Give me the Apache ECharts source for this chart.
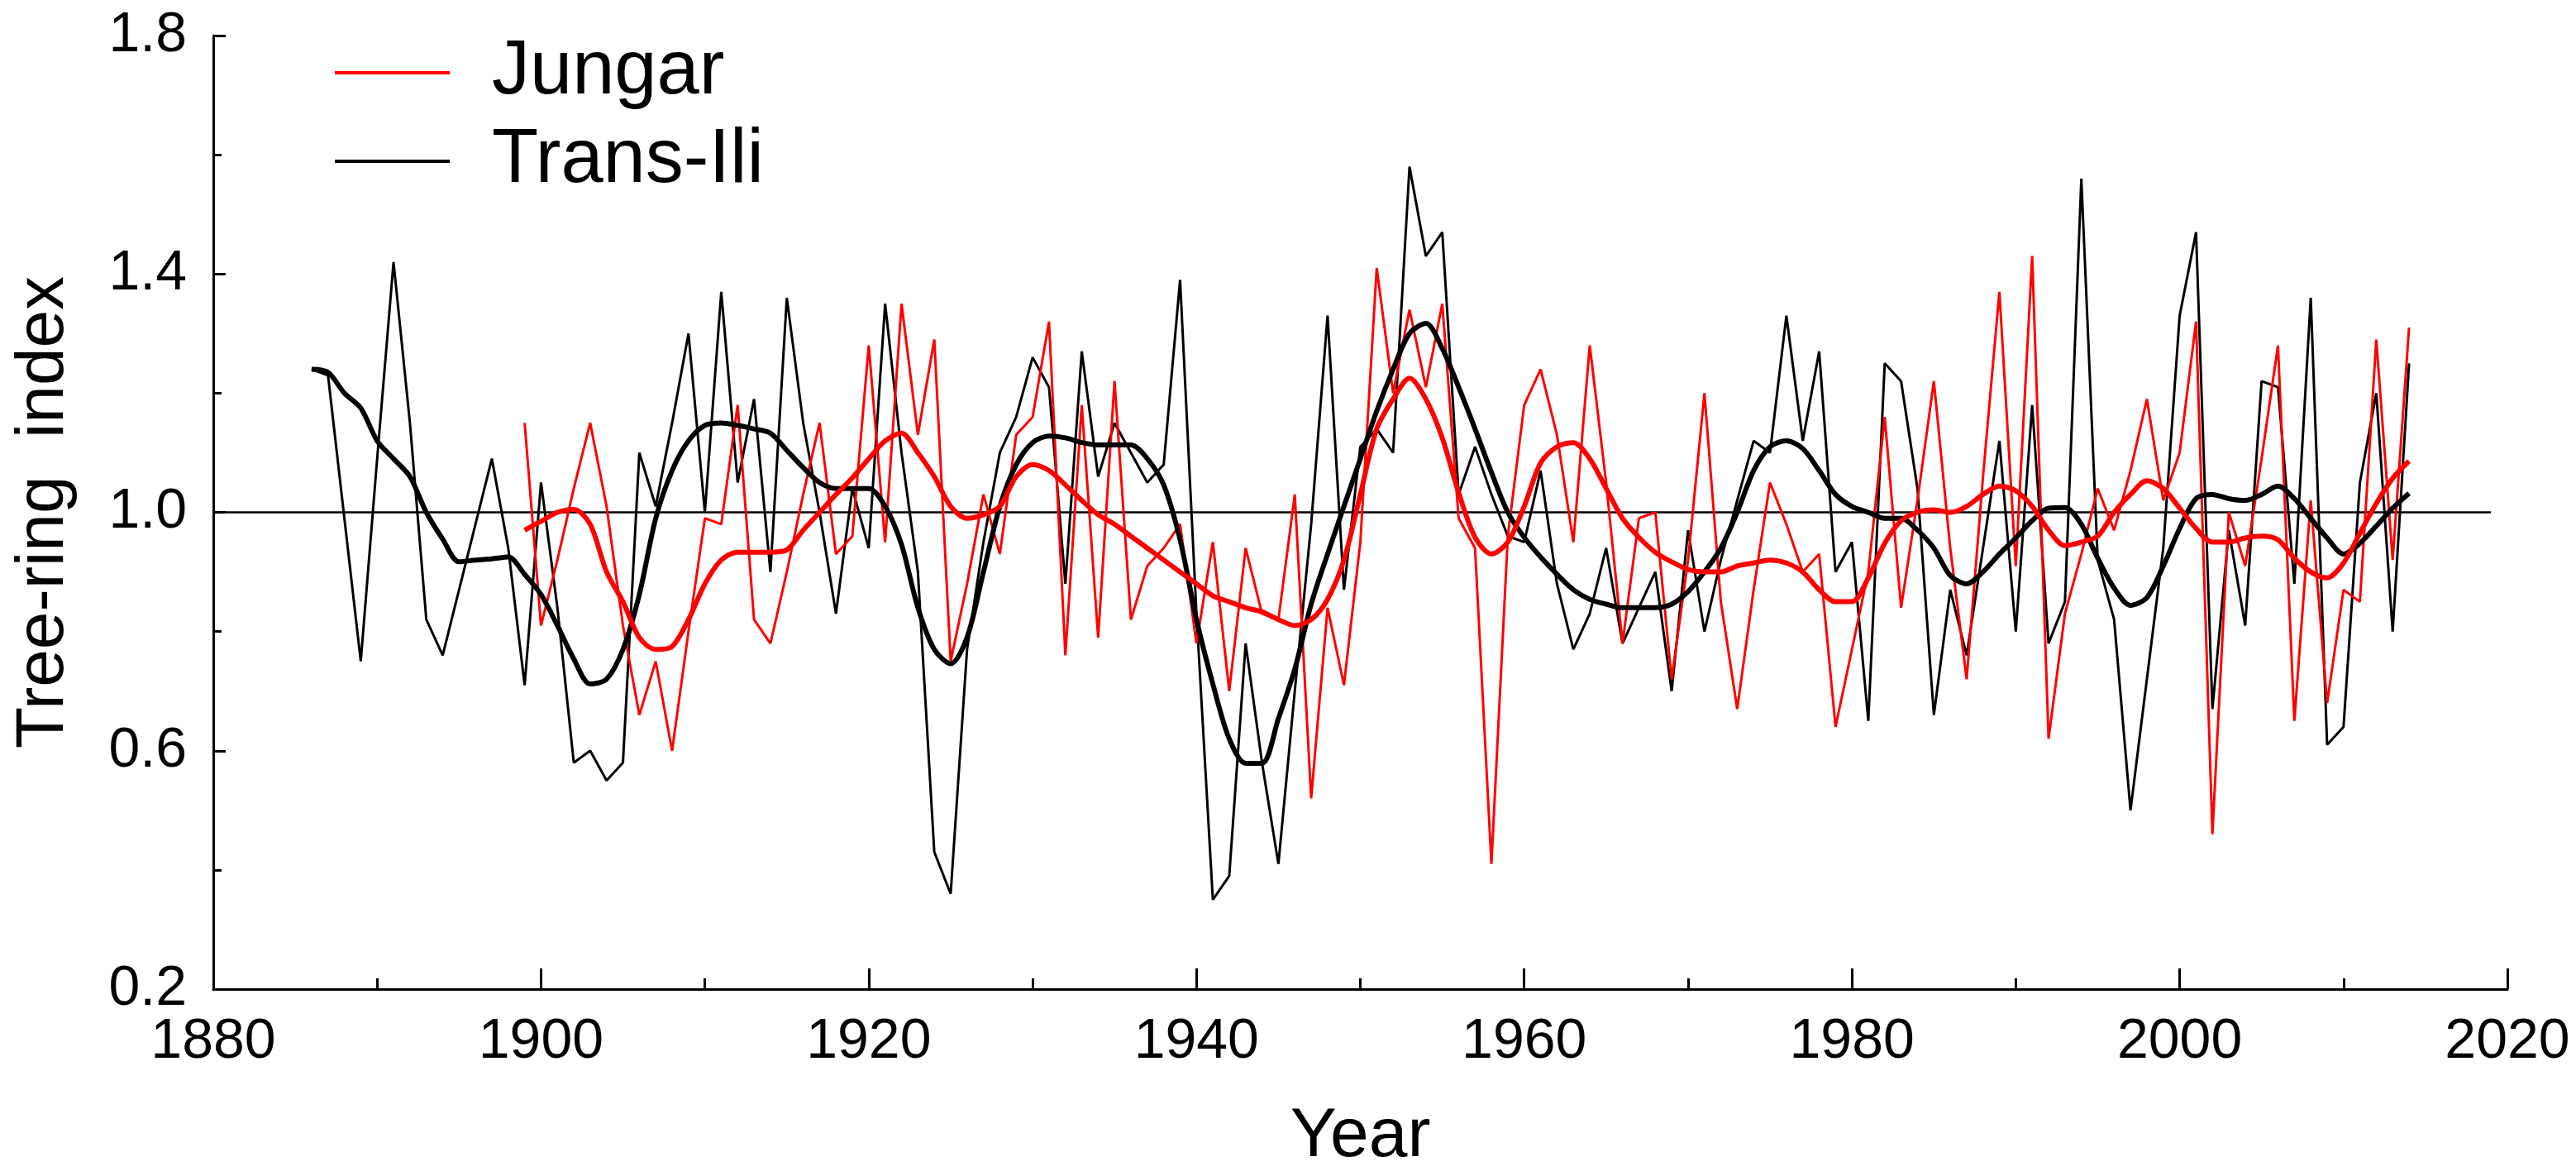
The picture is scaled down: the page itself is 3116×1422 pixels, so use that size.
<!DOCTYPE html>
<html>
<head>
<meta charset="utf-8">
<title>Tree-ring index</title>
<script src="https://cdn.jsdelivr.net/npm/echarts@6/dist/echarts.min.js"></script>
<style>
  html, body { margin: 0; padding: 0; background: #fff; }
  #chart { width: 3116px; height: 1422px; }
</style>
</head>
<body>
<div id="chart"></div>
<script>
// --- data ---
const transIliStart = 1886;
const transIliRaw = [
  1.24, 1.23, 0.99, 0.75,                                   // 1886-1889
  1.09, 1.42, 1.15, 0.82, 0.76, 0.87, 0.98, 1.09, 0.94, 0.71, // 1890s
  1.05, 0.84, 0.58, 0.60, 0.55, 0.58, 1.10, 1.01, 1.15, 1.30, // 1900s
  1.00, 1.37, 1.05, 1.19, 0.90, 1.36, 1.15, 1.00, 0.83, 1.04, // 1910s
  0.94, 1.35, 1.10, 0.90, 0.43, 0.36, 0.77, 0.95, 1.10, 1.16, // 1920s
  1.26, 1.21, 0.88, 1.27, 1.06, 1.15, 1.10, 1.05, 1.08, 1.39, // 1930s
  0.83, 0.35, 0.39, 0.78, 0.58, 0.41, 0.70, 0.98, 1.33, 0.87, // 1940s
  1.11, 1.14, 1.10, 1.58, 1.43, 1.47, 1.03, 1.11, 1.03, 0.96, // 1950s
  0.95, 1.07, 0.88, 0.77, 0.83, 0.94, 0.78, 0.84, 0.90, 0.70, // 1960s
  0.97, 0.80, 0.92, 1.02, 1.12, 1.10, 1.33, 1.12, 1.27, 0.90, // 1970s
  0.95, 0.65, 1.25, 1.22, 1.04, 0.66, 0.87, 0.76, 0.94, 1.12, // 1980s
  0.80, 1.18, 0.78, 0.85, 1.56, 0.92, 0.82, 0.50, 0.72, 0.94, // 1990s
  1.33, 1.47, 0.67, 0.97, 0.81, 1.22, 1.21, 0.88, 1.36, 0.61, // 2000s
  0.64, 1.05, 1.20, 0.80, 1.25                              // 2010-2014
];
const transIliSmooth = [
  1.24, 1.235, 1.20, 1.175,
  1.12, 1.09, 1.06, 1.00, 0.955, 0.917, 0.92, 0.922, 0.925, 0.896,
  0.862, 0.81, 0.754, 0.712, 0.72, 0.77, 0.862, 0.99, 1.07, 1.12,
  1.146, 1.15, 1.146, 1.14, 1.133, 1.104, 1.075, 1.05, 1.04, 1.04,
  1.04, 1.01, 0.946, 0.84, 0.77, 0.746, 0.79, 0.90, 1.01, 1.08,
  1.117, 1.128, 1.125, 1.117, 1.113, 1.113, 1.113, 1.09, 1.046, 0.954,
  0.82, 0.712, 0.62, 0.579, 0.579, 0.654, 0.737, 0.846, 0.93, 1.01,
  1.09, 1.17, 1.24, 1.30, 1.317, 1.275, 1.21, 1.14, 1.067, 1.0,
  0.958, 0.925, 0.896, 0.87, 0.854, 0.846, 0.84, 0.84, 0.84, 0.846,
  0.867, 0.90, 0.94, 1.0, 1.07, 1.11, 1.12, 1.107, 1.07, 1.03,
  1.01, 1.0, 0.99, 0.99, 0.97, 0.94, 0.894, 0.88, 0.90, 0.93,
  0.957, 0.986, 1.007, 1.008, 0.98, 0.923, 0.873, 0.844, 0.857, 0.91,
  0.973, 1.023, 1.03, 1.023, 1.02, 1.03, 1.044, 1.023, 0.99, 0.957,
  0.93, 0.948, 0.977, 1.007, 1.032
];

const jungarStart = 1899;
const jungarRaw = [
  1.15,                                                     // 1899
  0.81, 0.92, 1.04, 1.15, 1.01, 0.81, 0.66, 0.75, 0.60, 0.80, // 1900s
  0.99, 0.98, 1.18, 0.82, 0.78, 0.90, 1.03, 1.15, 0.93, 0.96, // 1910s
  1.28, 0.95, 1.35, 1.13, 1.29, 0.75, 0.88, 1.03, 0.93, 1.13, // 1920s
  1.16, 1.32, 0.76, 1.18, 0.79, 1.22, 0.82, 0.91, 0.94, 0.98, // 1930s
  0.78, 0.95, 0.70, 0.94, 0.83, 0.82, 1.03, 0.52, 0.84, 0.71, // 1940s
  0.95, 1.41, 1.20, 1.34, 1.21, 1.35, 0.99, 0.94, 0.41, 0.96, // 1950s
  1.18, 1.24, 1.13, 0.95, 1.28, 1.05, 0.78, 0.99, 1.00, 0.72, // 1960s
  0.92, 1.20, 0.85, 0.67, 0.87, 1.05, 0.98, 0.90, 0.93, 0.64, // 1970s
  0.77, 0.90, 1.16, 0.84, 1.02, 1.22, 0.94, 0.72, 1.06, 1.37, // 1980s
  0.91, 1.43, 0.62, 0.83, 0.93, 1.04, 0.97, 1.07, 1.19, 1.02, // 1990s
  1.10, 1.32, 0.46, 1.00, 0.91, 1.09, 1.28, 0.65, 1.02, 0.68, // 2000s
  0.87, 0.85, 1.29, 0.92, 1.31                              // 2010-2014
];
const jungarSmooth = [
  0.97,
  0.985, 1.0, 1.005, 0.98, 0.90, 0.85, 0.79, 0.77, 0.775, 0.82,
  0.88, 0.92, 0.933, 0.933, 0.933, 0.937, 0.97, 1.0, 1.03, 1.058,
  1.09, 1.12, 1.133, 1.10, 1.06, 1.01, 0.99, 0.996, 1.01, 1.06,
  1.08, 1.07, 1.046, 1.02, 0.996, 0.98, 0.96, 0.94, 0.92, 0.90,
  0.88, 0.86, 0.85, 0.84, 0.833, 0.82, 0.81, 0.82, 0.854, 0.92,
  1.03, 1.14, 1.19, 1.225, 1.19, 1.125, 1.033, 0.958, 0.93, 0.95,
  1.01, 1.083, 1.11, 1.117, 1.09, 1.04, 0.99, 0.958, 0.933, 0.917,
  0.904, 0.90, 0.90, 0.91, 0.915, 0.92, 0.915, 0.90, 0.87, 0.85,
  0.85, 0.89, 0.948, 0.986, 1.0, 1.004, 1.0, 1.01, 1.03, 1.044,
  1.036, 1.01, 0.97, 0.944, 0.95, 0.96, 1.0, 1.03, 1.053, 1.04,
  1.007, 0.973, 0.95, 0.95, 0.957, 0.96, 0.954, 0.923, 0.90, 0.89,
  0.915, 0.965, 1.015, 1.057, 1.086
];

// reference line at index 1.0
const refYears = [1880, 2019];
const refLevel = 1.0;

const yTicks = [0.2, 1.8, 0.4];      // min, max, interval
const xTicks = [1880, 2020, 20];     // min, max, interval

// --- helpers ---
function toPairs(start, values) {
  return values.map((v, i) => [start + i, v]);
}

const FONT = 'Liberation Sans, Arial, sans-serif';
const RED = '#ff0000';
const BLACK = '#000000';

const chart = echarts.init(document.getElementById('chart'), null, { renderer: 'canvas' });

const option = {
  animation: false,
  backgroundColor: '#ffffff',
  grid: { left: 258, right: 83, top: 43, bottom: 226 },
  legend: {
    data: ['Jungar', 'Trans-Ili'],
    orient: 'vertical',
    left: 400,
    top: 37,
    icon: 'rect',
    itemWidth: 139,
    itemHeight: 4,
    itemGap: 15,
    selectedMode: false,
    textStyle: {
      fontFamily: FONT,
      fontSize: 92,
      lineHeight: 92,
      color: BLACK,
      padding: [0, 0, 0, 46]
    }
  },
  xAxis: {
    type: 'value',
    min: xTicks[0],
    max: xTicks[1],
    interval: xTicks[2],
    name: 'Year',
    nameLocation: 'middle',
    nameGap: 137,
    nameTextStyle: { fontFamily: FONT, fontSize: 84, color: BLACK },
    axisLine: { show: true, lineStyle: { color: BLACK, width: 3 } },
    axisTick: { show: true, inside: true, length: 25, lineStyle: { color: BLACK, width: 3 } },
    minorTick: { show: true, splitNumber: 2, length: 13, lineStyle: { color: BLACK, width: 3 } },
    axisLabel: {
      fontFamily: FONT, fontSize: 68, color: BLACK, margin: 30,
      formatter: v => String(v)
    },
    splitLine: { show: false }
  },
  yAxis: {
    type: 'value',
    min: yTicks[0],
    max: yTicks[1],
    interval: yTicks[2],
    name: 'Tree-ring  index',
    nameLocation: 'middle',
    nameGap: 164,
    nameTextStyle: { fontFamily: FONT, fontSize: 82, color: BLACK },
    axisLine: { show: true, lineStyle: { color: BLACK, width: 3 } },
    axisTick: { show: true, inside: true, length: 15, lineStyle: { color: BLACK, width: 3 } },
    minorTick: { show: true, splitNumber: 2, length: 10, lineStyle: { color: BLACK, width: 3 } },
    axisLabel: {
      fontFamily: FONT, fontSize: 68, color: BLACK, margin: 32,
      formatter: v => v.toFixed(1)
    },
    splitLine: { show: false }
  },
  series: [
    {
      name: 'reference',
      type: 'line',
      data: refYears.map(y => [y, refLevel]),
      showSymbol: false,
      silent: true,
      lineStyle: { color: BLACK, width: 2.5 },
      z: 1
    },
    {
      name: 'Trans-Ili',
      type: 'line',
      data: toPairs(transIliStart, transIliRaw),
      showSymbol: false,
      color: BLACK,
      lineStyle: { color: BLACK, width: 3 },
      z: 2
    },
    {
      name: 'Jungar',
      type: 'line',
      data: toPairs(jungarStart, jungarRaw),
      showSymbol: false,
      color: RED,
      lineStyle: { color: RED, width: 3 },
      z: 3
    },
    {
      name: 'Trans-Ili smooth',
      type: 'line',
      data: toPairs(transIliStart, transIliSmooth),
      showSymbol: false,
      smooth: 0.3,
      lineStyle: { color: BLACK, width: 6 },
      z: 4
    },
    {
      name: 'Jungar smooth',
      type: 'line',
      data: toPairs(jungarStart, jungarSmooth),
      showSymbol: false,
      smooth: 0.3,
      lineStyle: { color: RED, width: 6 },
      z: 5
    }
  ]
};

chart.setOption(option);
</script>
</body>
</html>
